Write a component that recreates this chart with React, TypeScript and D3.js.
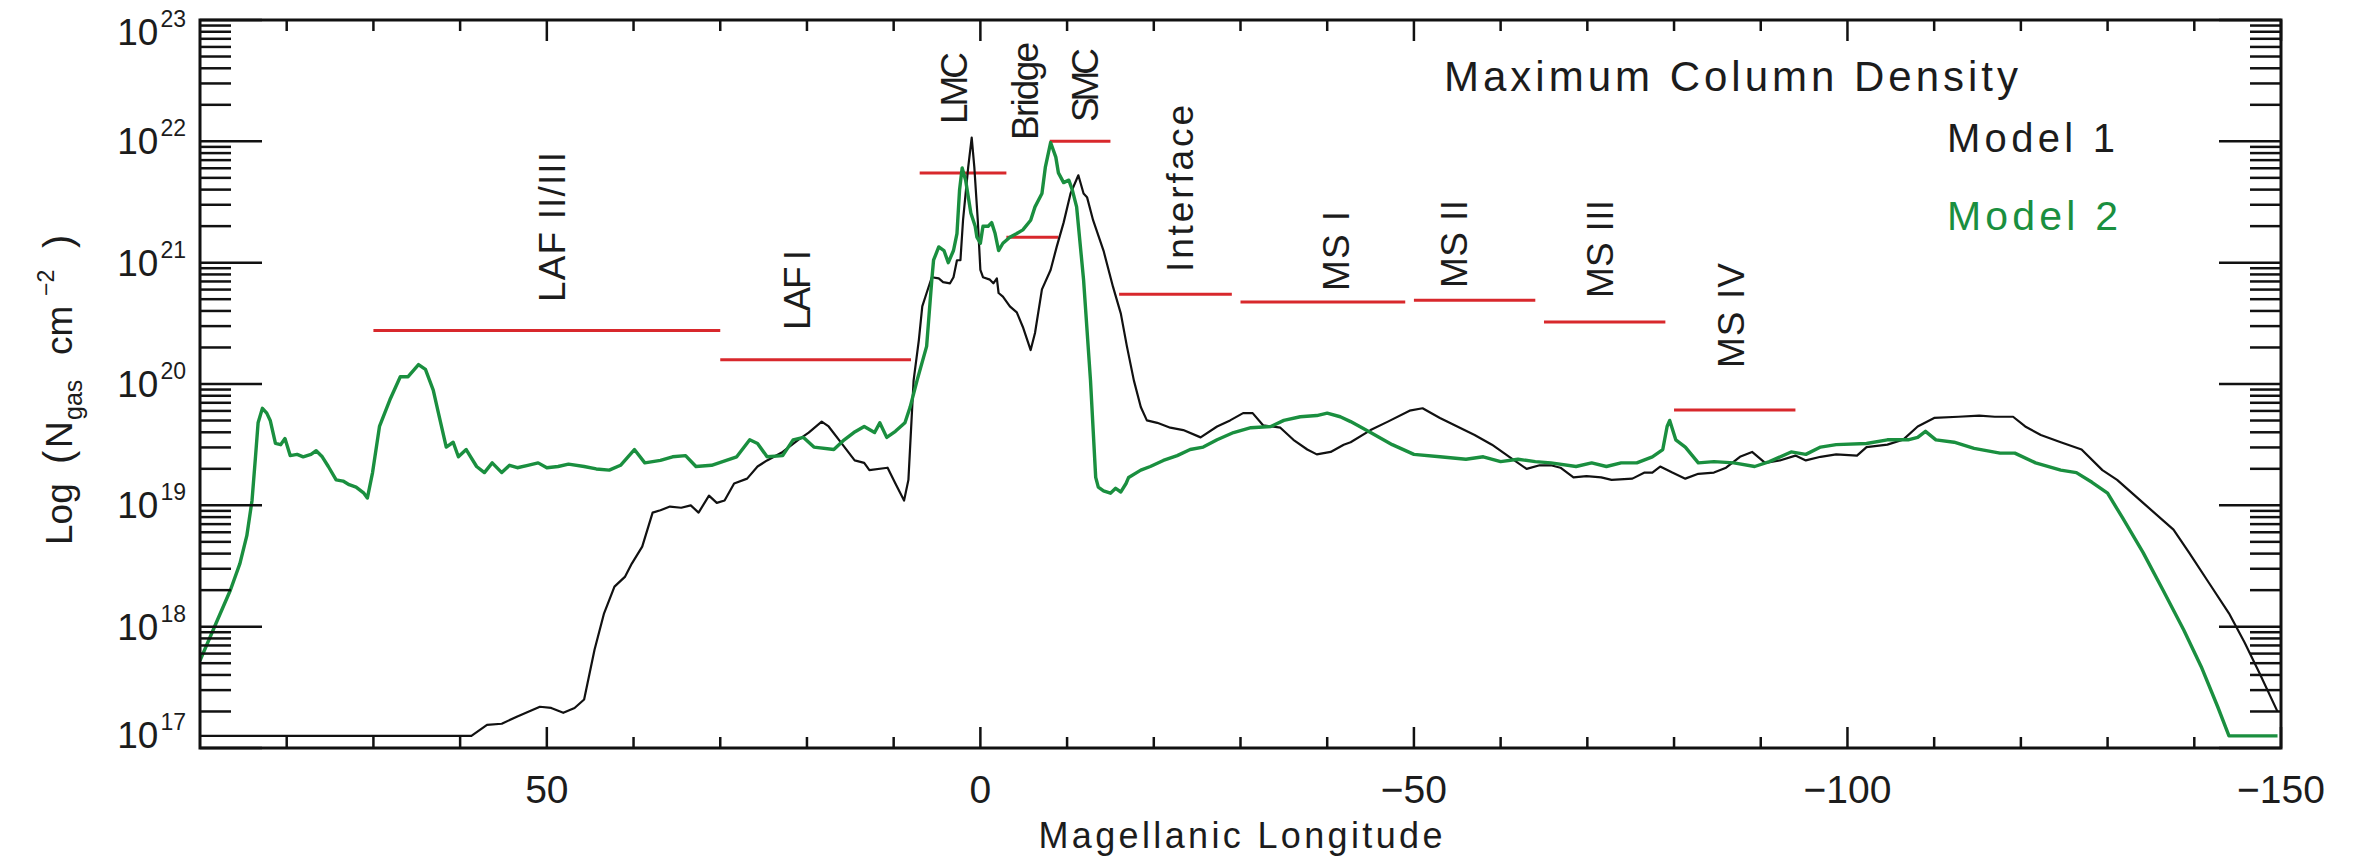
import React from "react";
import * as d3 from "d3";

// ---------------- data ----------------
const xDomain = [90, -150];
const yDomainExp = [17, 23];
const xMajorTicks = [50, 0, -50, -100, -150];
const xTickLabels = ["50", "0", "\u221250", "\u2212100", "\u2212150"];
const yMajorExponents = [17, 18, 19, 20, 21, 22, 23];

// Model 1 (black): Magellanic longitude, log10 N_gas
const model1Lon = [90, 58.7, 56.9, 55.2, 53.4, 50.8, 49.5, 48.1, 46.8, 45.7, 44.5, 43.4, 42.2, 41.0, 40.2, 39.0, 37.8, 36.9, 35.8, 34.5, 33.4, 32.5, 31.3, 30.4, 29.5, 28.4, 26.9, 25.7, 24.6, 22.8, 21.0, 19.8, 18.3, 17.5, 16.0, 14.5, 13.4, 12.8, 10.7, 9.8, 8.8, 8.3, 7.7, 7.1, 6.7, 6.2, 5.6, 4.8, 4.3, 3.5, 3.1, 2.7, 2.3, 2.0, 1.4, 1.0, 0.7, 0.3, 0.0, -0.3, -1.1, -1.5, -1.9, -2.1, -2.6, -3.4, -4.2, -4.9, -5.8, -6.3, -7.1, -8.1, -8.8, -9.6, -10.4, -11.3, -11.9, -12.3, -13.0, -14.2, -15.3, -16.2, -16.9, -17.7, -18.5, -19.2, -20.4, -21.9, -23.4, -25.4, -27.3, -28.8, -30.3, -31.4, -32.6, -34.6, -36.1, -37.7, -38.8, -40.4, -41.9, -42.7, -45.0, -47.0, -49.5, -51.0, -53.0, -55.0, -57.0, -59.0, -61.0, -63.0, -64.5, -65.8, -66.9, -68.4, -69.9, -71.6, -72.8, -75.2, -76.6, -77.5, -78.4, -79.8, -81.3, -82.8, -84.6, -86.0, -87.6, -89.0, -90.5, -92.2, -94.0, -95.2, -96.9, -98.7, -101.1, -102.2, -104.6, -106.4, -108.1, -110.0, -112.8, -115.2, -117.0, -119.1, -120.5, -122.3, -124.6, -127.0, -129.4, -131.1, -134.1, -137.6, -139.4, -141.7, -144.0, -145.8, -147.5, -149.6];
const model1LogN = [17.10, 17.10, 17.19, 17.20, 17.26, 17.34, 17.33, 17.29, 17.33, 17.40, 17.81, 18.11, 18.33, 18.41, 18.52, 18.66, 18.94, 18.96, 18.99, 18.98, 19.00, 18.94, 19.08, 19.02, 19.04, 19.18, 19.22, 19.32, 19.37, 19.44, 19.54, 19.60, 19.69, 19.65, 19.51, 19.37, 19.35, 19.29, 19.31, 19.18, 19.04, 19.21, 20.03, 20.36, 20.64, 20.75, 20.88, 20.87, 20.84, 20.83, 20.88, 21.02, 21.02, 21.35, 21.79, 22.03, 21.79, 21.35, 20.94, 20.88, 20.86, 20.83, 20.87, 20.75, 20.72, 20.64, 20.59, 20.47, 20.28, 20.42, 20.78, 20.94, 21.13, 21.33, 21.57, 21.72, 21.57, 21.54, 21.35, 21.10, 20.80, 20.58, 20.31, 20.03, 19.81, 19.70, 19.68, 19.64, 19.62, 19.56, 19.65, 19.70, 19.76, 19.76, 19.66, 19.64, 19.54, 19.46, 19.42, 19.44, 19.50, 19.52, 19.62, 19.69, 19.78, 19.80, 19.72, 19.65, 19.58, 19.50, 19.40, 19.30, 19.33, 19.33, 19.31, 19.23, 19.24, 19.23, 19.21, 19.22, 19.27, 19.27, 19.32, 19.27, 19.22, 19.26, 19.27, 19.31, 19.40, 19.44, 19.35, 19.37, 19.41, 19.37, 19.40, 19.42, 19.41, 19.48, 19.50, 19.54, 19.65, 19.72, 19.73, 19.74, 19.73, 19.73, 19.65, 19.58, 19.52, 19.46, 19.29, 19.21, 19.02, 18.80, 18.61, 18.36, 18.11, 17.87, 17.62, 17.30];

// Model 2 (green)
const model2Lon = [90, 88.2, 86.5, 85.4, 84.6, 84.0, 83.6, 83.3, 82.8, 82.3, 81.9, 81.3, 80.7, 80.2, 79.6, 78.8, 78.1, 77.2, 76.6, 75.9, 75.2, 74.3, 73.5, 72.8, 72.0, 71.1, 70.7, 70.1, 69.3, 68.1, 66.9, 66.0, 64.8, 64.0, 63.1, 62.5, 61.6, 60.8, 60.2, 59.3, 58.1, 57.2, 56.3, 55.2, 54.3, 53.4, 52.2, 51.0, 50.0, 48.7, 47.5, 45.7, 44.3, 42.8, 41.5, 39.9, 38.7, 36.9, 35.5, 34.0, 32.8, 31.0, 29.3, 28.1, 26.6, 25.7, 24.6, 22.8, 21.6, 20.4, 19.2, 16.9, 15.7, 14.6, 13.4, 12.2, 11.6, 10.8, 9.8, 8.7, 8.1, 7.3, 6.2, 5.6, 5.4, 4.8, 4.2, 3.7, 3.1, 2.7, 2.4, 2.1, 1.7, 1.1, 0.6, 0.4, 0.0, -0.3, -0.9, -1.3, -1.7, -2.1, -2.6, -3.4, -4.2, -4.9, -5.8, -6.3, -7.1, -7.5, -8.1, -8.7, -9.0, -9.6, -10.2, -10.6, -11.1, -11.9, -12.7, -13.3, -13.6, -14.2, -15.0, -15.6, -16.2, -16.8, -17.1, -18.5, -19.6, -21.1, -22.7, -24.2, -25.7, -27.3, -29.2, -31.2, -33.5, -35.0, -36.9, -38.8, -40.0, -41.5, -42.7, -45.0, -47.5, -50.0, -53.0, -56.0, -58.0, -60.0, -62.0, -64.0, -65.8, -68.7, -70.5, -72.2, -73.9, -75.7, -77.5, -78.7, -79.2, -79.5, -80.2, -81.3, -82.8, -84.6, -86.9, -89.3, -91.0, -93.5, -95.2, -96.9, -98.7, -102.2, -104.6, -107.0, -108.1, -109.0, -110.2, -112.3, -114.6, -117.6, -119.3, -121.7, -124.6, -126.4, -128.2, -130.0, -131.7, -134.1, -136.4, -138.8, -140.8, -142.7, -144.0, -149.6];
const model2LogN = [17.72, 18.02, 18.30, 18.52, 18.75, 19.04, 19.40, 19.68, 19.80, 19.76, 19.70, 19.51, 19.50, 19.55, 19.41, 19.42, 19.40, 19.42, 19.45, 19.40, 19.32, 19.21, 19.20, 19.17, 19.15, 19.10, 19.06, 19.27, 19.65, 19.87, 20.06, 20.06, 20.16, 20.12, 19.95, 19.76, 19.48, 19.52, 19.40, 19.46, 19.32, 19.27, 19.35, 19.27, 19.33, 19.31, 19.33, 19.35, 19.31, 19.32, 19.34, 19.32, 19.30, 19.29, 19.33, 19.46, 19.35, 19.37, 19.40, 19.41, 19.32, 19.33, 19.37, 19.40, 19.54, 19.51, 19.40, 19.41, 19.54, 19.56, 19.48, 19.46, 19.54, 19.60, 19.65, 19.60, 19.68, 19.56, 19.61, 19.68, 19.81, 20.03, 20.31, 20.86, 21.02, 21.13, 21.10, 21.00, 21.10, 21.24, 21.60, 21.78, 21.68, 21.41, 21.30, 21.21, 21.16, 21.30, 21.30, 21.33, 21.24, 21.10, 21.16, 21.21, 21.24, 21.27, 21.35, 21.46, 21.57, 21.79, 21.99, 21.87, 21.74, 21.66, 21.68, 21.60, 21.46, 20.86, 20.03, 19.23, 19.15, 19.12, 19.10, 19.14, 19.11, 19.18, 19.23, 19.29, 19.32, 19.37, 19.41, 19.46, 19.48, 19.54, 19.60, 19.64, 19.65, 19.70, 19.73, 19.74, 19.76, 19.73, 19.69, 19.60, 19.50, 19.42, 19.40, 19.38, 19.40, 19.36, 19.38, 19.36, 19.35, 19.32, 19.35, 19.32, 19.35, 19.35, 19.40, 19.46, 19.65, 19.70, 19.54, 19.48, 19.35, 19.36, 19.35, 19.32, 19.36, 19.44, 19.42, 19.48, 19.50, 19.51, 19.54, 19.54, 19.56, 19.61, 19.54, 19.52, 19.47, 19.43, 19.43, 19.35, 19.29, 19.27, 19.19, 19.10, 18.90, 18.61, 18.30, 17.97, 17.67, 17.34, 17.10, 17.10];

// Regions (red bars)
const regionNames = ["LAF II/III", "LAF I", "LMC", "Bridge", "SMC", "Interface", "MS I", "MS II", "MS III", "MS IV"];
const regionFrom = [70, 30, 7, -3, -8, -16, -30, -50, -65, -80];
const regionTo = [30, 8, -3, -9, -15, -29, -49, -64, -79, -94];
const regionLogN = [20.44, 20.2, 21.74, 21.21, 22.0, 20.74, 20.675, 20.69, 20.51, 19.785];

// ---------------- layout ----------------
const W = 2372;
const H = 864;
const PL = 200, PR = 2281, PT = 20, PB = 748;
const FONT = "'Liberation Sans', Arial, Helvetica, sans-serif";
const TXT = "#1c1c1c";
const GREEN = "#1a8f3f";
const RED = "#d8282c";

// rotated region labels: [baseline x, bottom y, length]
const labelLayout: Record<string, [number, number, number]> = {
  "LAF II/III": [565, 302, 150],
  "LAF I": [810, 330, 80],
  "LMC": [967, 124, 72],
  "Bridge": [1038, 140, 98],
  "SMC": [1098, 122, 74],
  "Interface": [1193, 272, 167],
  "MS I": [1349, 291, 80],
  "MS II": [1467, 288, 88],
  "MS III": [1613, 298, 98],
  "MS IV": [1744, 368, 105],
};

export default function App() {
  const x = d3.scaleLinear().domain(xDomain).range([PL, PR]);
  const y = d3.scaleLog().domain([10 ** yDomainExp[0], 10 ** yDomainExp[1]]).range([PB, PT]);

  const line = d3
    .line<[number, number]>()
    .x((d) => x(d[0]))
    .y((d) => y(10 ** d[1]));

  const m1 = model1Lon.map((v, i) => [v, model1LogN[i]] as [number, number]);
  const m2 = model2Lon.map((v, i) => [v, model2LogN[i]] as [number, number]);

  const xMinor = d3.range(-150, 91, 10).filter((v) => !xMajorTicks.includes(v) && v !== 90 && v !== -150);
  const yMinor: number[] = [];
  for (let e = yDomainExp[0]; e < yDomainExp[1]; e++) {
    for (let k = 2; k <= 9; k++) yMinor.push(k * 10 ** e);
  }

  return (
    <svg
      width={W}
      height={H}
      style={{ position: "absolute", left: 0, top: 0, display: "block", background: "#fff" }}
      fontFamily={FONT}
    >
      <defs>
        <clipPath id="plotclip">
          <rect x={PL} y={PT} width={PR - PL} height={PB - PT} />
        </clipPath>
      </defs>

      {/* red region bars */}
      {regionNames.map((n, i) => (
        <line
          key={"r" + n}
          x1={x(regionFrom[i])}
          x2={x(regionTo[i])}
          y1={y(10 ** regionLogN[i])}
          y2={y(10 ** regionLogN[i])}
          stroke={RED}
          strokeWidth={3}
        />
      ))}

      {/* curves */}
      <g clipPath="url(#plotclip)">
        <path d={line(m1) || ""} fill="none" stroke="#111" strokeWidth={2.2} strokeLinejoin="round" />
        <path d={line(m2) || ""} fill="none" stroke={GREEN} strokeWidth={3.4} strokeLinejoin="round" />
      </g>

      {/* region labels */}
      {regionNames.map((n) => {
        const [bx, by, len] = labelLayout[n];
        return (
          <text
            key={"t" + n}
            transform={`translate(${bx},${by}) rotate(-90)`}
            fontSize={37}
            fill={TXT}
            textLength={len}
            lengthAdjust="spacing"
          >
            {n}
          </text>
        );
      })}

      {/* frame */}
      <rect x={PL} y={PT} width={PR - PL} height={PB - PT} fill="none" stroke="#111" strokeWidth={3} />

      {/* x ticks */}
      {xMajorTicks.map((v) => (
        <g key={"xM" + v}>
          <line x1={x(v)} x2={x(v)} y1={PB} y2={PB - 21} stroke="#111" strokeWidth={2.5} />
          <line x1={x(v)} x2={x(v)} y1={PT} y2={PT + 21} stroke="#111" strokeWidth={2.5} />
        </g>
      ))}
      {xMinor.map((v) => (
        <g key={"xm" + v}>
          <line x1={x(v)} x2={x(v)} y1={PB} y2={PB - 11} stroke="#111" strokeWidth={2.5} />
          <line x1={x(v)} x2={x(v)} y1={PT} y2={PT + 11} stroke="#111" strokeWidth={2.5} />
        </g>
      ))}
      {xMajorTicks.map((v, i) => (
        <text key={"xl" + v} x={x(v)} y={803} fontSize={39} textAnchor="middle" fill={TXT}>
          {xTickLabels[i]}
        </text>
      ))}

      {/* y ticks */}
      {yMajorExponents.map((e) => (
        <g key={"yM" + e}>
          <line x1={PL} x2={PL + 62} y1={y(10 ** e)} y2={y(10 ** e)} stroke="#111" strokeWidth={2.5} />
          <line x1={PR} x2={PR - 62} y1={y(10 ** e)} y2={y(10 ** e)} stroke="#111" strokeWidth={2.5} />
        </g>
      ))}
      {yMinor.map((v) => (
        <g key={"ym" + v}>
          <line x1={PL} x2={PL + 31} y1={y(v)} y2={y(v)} stroke="#111" strokeWidth={2.5} />
          <line x1={PR} x2={PR - 31} y1={y(v)} y2={y(v)} stroke="#111" strokeWidth={2.5} />
        </g>
      ))}
      {yMajorExponents.map((e) => {
        const yy = y(10 ** e);
        const base = e === yDomainExp[1] ? 45 : e === yDomainExp[0] ? 748 : yy + 13;
        return (
          <text key={"yl" + e} x={186} y={base} textAnchor="end" fill={TXT} fontSize={37}>
            10
            <tspan dy={-18} dx={2} fontSize={23}>
              {String(e)}
            </tspan>
          </text>
        );
      })}

      {/* axis titles */}
      <text x={(PL + PR) / 2} y={848} fontSize={36} textAnchor="middle" fill={TXT} textLength={404} lengthAdjust="spacing">
        Magellanic Longitude
      </text>
      <g transform="translate(72,0) rotate(-90)" fill={TXT}>
        <text fontSize={37}>
          <tspan x={-545}>Log</tspan>
          <tspan x={-464} fontSize={40}>(</tspan>
          <tspan x={-448}>N</tspan>
          <tspan x={-420} dy={10} fontSize={25}>gas</tspan>
          <tspan x={-355} dy={-10}>cm</tspan>
          <tspan x={-296} dy={-18} fontSize={23}>{"\u22122"}</tspan>
          <tspan x={-248} dy={18} fontSize={40}>)</tspan>
        </text>
      </g>

      {/* annotation */}
      <text x={1444} y={91} fontSize={42} fill={TXT} textLength={574} lengthAdjust="spacing">
        Maximum Column Density
      </text>
      <text x={1947} y={152} fontSize={40} fill={TXT} textLength={168} lengthAdjust="spacing">
        Model 1
      </text>
      <text x={1947} y={230} fontSize={41} fill={GREEN} textLength={171} lengthAdjust="spacing">
        Model 2
      </text>
    </svg>
  );
}
